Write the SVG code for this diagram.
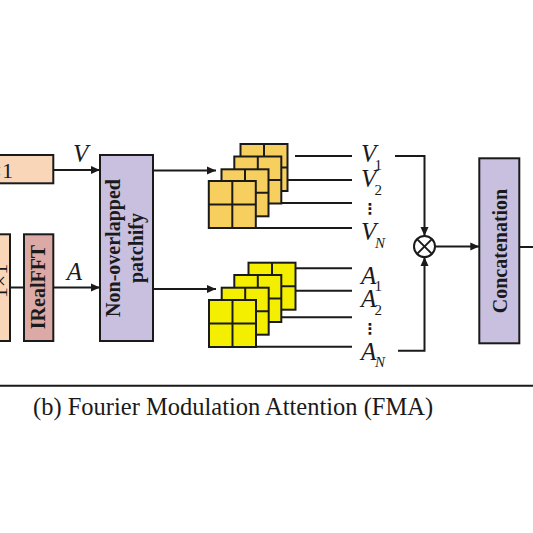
<svg xmlns="http://www.w3.org/2000/svg" width="533" height="533" viewBox="0 0 533 533">
<defs>
<style>
.box{stroke:#1a1a1a;stroke-width:2}
.peach{fill:#f9d6b8}
.pink{fill:#dcaaa6}
.lav{fill:#c8c0de}
.btxt{font-family:"Liberation Serif",serif;font-weight:bold;font-size:20px;fill:#1a1a1a;text-anchor:middle}
.it{font-family:"Liberation Serif",serif;font-style:italic;font-size:25px;fill:#1a1a1a}
.sub{font-family:"Liberation Serif",serif;font-size:15px;fill:#1a1a1a}
.subi{font-family:"Liberation Serif",serif;font-style:italic;font-size:15px;fill:#1a1a1a}
.ln{stroke:#1a1a1a;stroke-width:2;fill:none}
.gold{fill:#f7cf5f;stroke:#1a1a1a;stroke-width:2}
.yel{fill:#f4ef00;stroke:#1a1a1a;stroke-width:2}
</style>
<marker id="ah" markerUnits="userSpaceOnUse" markerWidth="10" markerHeight="10" refX="9" refY="5" orient="auto">
<path d="M0,1 L9,5 L0,9 z" fill="#1a1a1a" stroke="none"/>
</marker>
<g id="cell">
<rect x="0" y="0" width="47" height="47"/>
<line x1="23.5" y1="0" x2="23.5" y2="47"/>
<line x1="0" y1="23.5" x2="47" y2="23.5"/>
</g>
</defs>
<rect width="533" height="533" fill="#ffffff"/>

<g id="conv-top">
<rect class="box peach" x="-5" y="155" width="58.3" height="28.3"/>
<text x="13" y="178" text-anchor="end" style="font-family:'Liberation Serif',serif;font-size:22px;fill:#1a1a1a">1×1</text>
</g>

<g id="conv-bottom">
<rect class="box peach" x="-5" y="234.3" width="15" height="106.7"/>
<text transform="translate(7,281) rotate(-90)" text-anchor="middle" style="font-family:'Liberation Serif',serif;font-size:22px;fill:#1a1a1a">1×1</text>
</g>

<g id="irealfft">
<rect class="box pink" x="24" y="234.3" width="29.3" height="106.7"/>
<text class="btxt" transform="translate(45,287) rotate(-90)">IRealFFT</text>
</g>

<g id="patchify">
<rect class="box lav" x="100" y="155" width="53" height="186"/>
<text class="btxt" transform="translate(120,248) rotate(-90)">Non-overlapped</text>
<text class="btxt" transform="translate(143,248) rotate(-90)">patchify</text>
</g>

<g id="concatenation">
<rect class="box lav" x="479.3" y="158.3" width="40" height="185"/>
<text class="btxt" transform="translate(507,251) rotate(-90)">Concatenation</text>
</g>

<g id="patches-v">
<use href="#cell" class="gold" x="240.5" y="144"/>
<use href="#cell" class="gold" x="234.3" y="156.5"/>
<use href="#cell" class="gold" x="221.5" y="169.3"/>
<use href="#cell" class="gold" x="208.8" y="181"/>
</g>

<g id="patches-a">
<use href="#cell" class="yel" x="248.5" y="262.7"/>
<use href="#cell" class="yel" x="234.3" y="275"/>
<use href="#cell" class="yel" x="221.7" y="287.7"/>
<use href="#cell" class="yel" x="209" y="300"/>
</g>

<g id="multiply">
<circle cx="424.5" cy="246.5" r="10.5" fill="#ffffff" stroke="#1a1a1a" stroke-width="2"/>
<line class="ln" x1="417.1" y1="239.1" x2="431.9" y2="253.9"/>
<line class="ln" x1="431.9" y1="239.1" x2="417.1" y2="253.9"/>
</g>

<g id="connectors">
<line class="ln" x1="53.3" y1="170" x2="100" y2="170" marker-end="url(#ah)"/>
<line class="ln" x1="10" y1="287.5" x2="24" y2="287.5"/>
<line class="ln" x1="53.3" y1="287.5" x2="100" y2="287.5" marker-end="url(#ah)"/>
<line class="ln" x1="153" y1="170.5" x2="216" y2="170.5" marker-end="url(#ah)"/>
<line class="ln" x1="153" y1="289" x2="216" y2="289" marker-end="url(#ah)"/>
<line class="ln" x1="295" y1="156" x2="352" y2="156"/>
<line class="ln" x1="288" y1="180" x2="352" y2="180"/>
<line class="ln" x1="281" y1="203" x2="352" y2="203"/>
<line class="ln" x1="256" y1="228" x2="352" y2="228"/>
<line class="ln" x1="296" y1="268.3" x2="352" y2="268.3"/>
<line class="ln" x1="296" y1="290.7" x2="352" y2="290.7"/>
<line class="ln" x1="282" y1="317.3" x2="352" y2="317.3"/>
<line class="ln" x1="256" y1="346.7" x2="352" y2="346.7"/>
<polyline class="ln" points="395,156 424.5,156 424.5,236" marker-end="url(#ah)"/>
<polyline class="ln" points="398,350.7 424.5,350.7 424.5,257" marker-end="url(#ah)"/>
<line class="ln" x1="435" y1="246.5" x2="479.3" y2="246.5" marker-end="url(#ah)"/>
<line class="ln" x1="519.3" y1="247" x2="533" y2="247"/>
</g>

<g id="labels">
<text class="it" x="73" y="161.7">V</text>
<text class="it" x="66.7" y="280">A</text>
<text class="it" x="361" y="161.5">V</text><text class="sub" x="374.5" y="169.5">1</text>
<text class="it" x="361" y="186.5">V</text><text class="sub" x="374.5" y="195">2</text>
<text x="370" y="214" text-anchor="middle" style="font-family:'DejaVu Sans',sans-serif;font-weight:bold;font-size:15px;fill:#1a1a1a">⋮</text>
<text class="it" x="361" y="240">V</text><text class="subi" x="375" y="248">N</text>
<text class="it" x="361" y="284">A</text><text class="sub" x="374.5" y="290.5">1</text>
<text class="it" x="361" y="306.7">A</text><text class="sub" x="374.5" y="315">2</text>
<text x="370" y="334" text-anchor="middle" style="font-family:'DejaVu Sans',sans-serif;font-weight:bold;font-size:15px;fill:#1a1a1a">⋮</text>
<text class="it" x="361" y="360">A</text><text class="subi" x="375" y="367.3">N</text>
</g>

<g id="caption">
<line x1="0" y1="385.7" x2="533" y2="385.7" stroke="#1a1a1a" stroke-width="2"/>
<text x="33" y="415" style="font-family:'Liberation Serif',serif;font-size:24.5px;fill:#1a1a1a">(b) Fourier Modulation Attention (FMA)</text>
</g>
</svg>
